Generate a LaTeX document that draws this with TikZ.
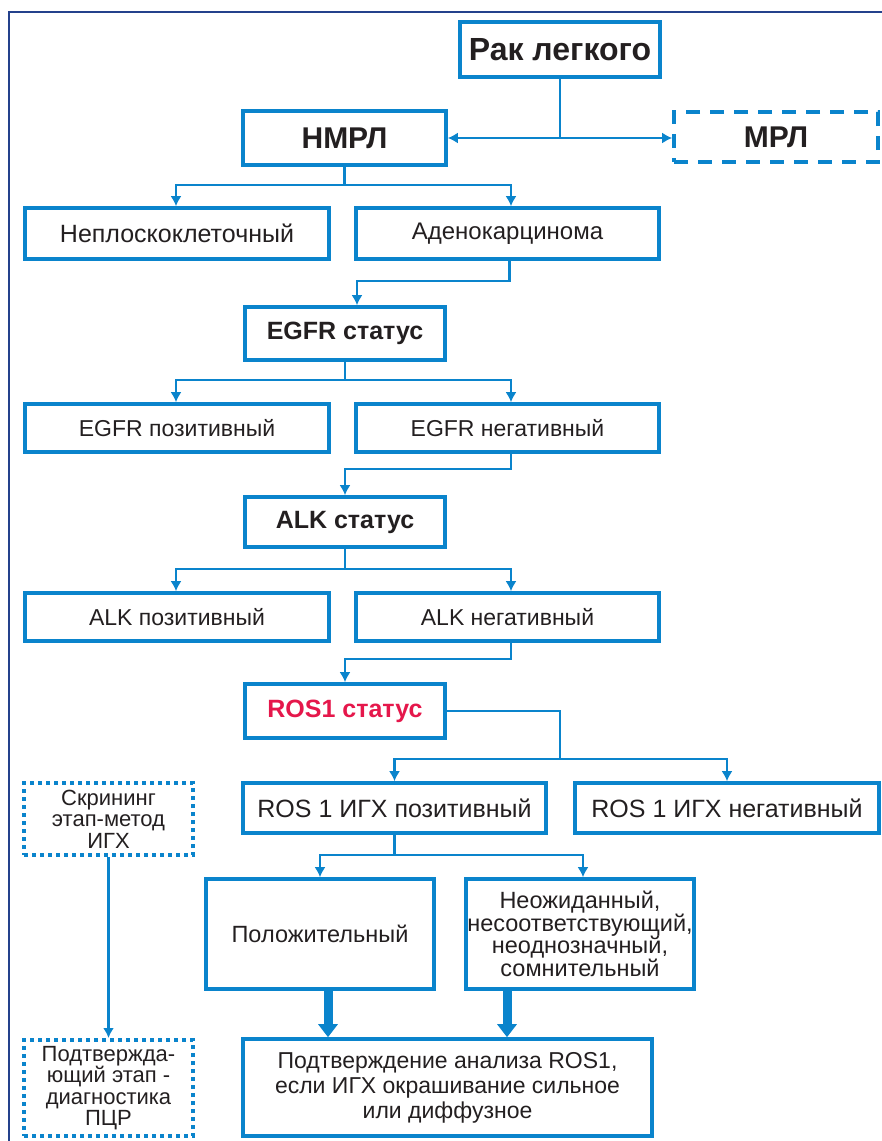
\documentclass[tikz,border=0pt]{standalone}
\usepackage{fontspec}
\setmainfont{Liberation Sans}
\usetikzlibrary{arrows.meta}
\definecolor{boxblue}{HTML}{0A84CC}
\definecolor{frameblue}{HTML}{24418C}
\definecolor{rosred}{HTML}{E5174B}
\definecolor{txt}{HTML}{231F20}
\tikzset{
  box/.style={draw=boxblue, line width=3.6pt, inner sep=0pt, align=center, text=txt,
    font=\fontsize{24}{24}\selectfont},
  bigbox/.style={box, font=\bfseries\fontsize{32}{32}\selectfont},
  statbox/.style={box, font=\bfseries\fontsize{25}{25}\selectfont},
  dashbox/.style={box, dash pattern=on 14pt off 10pt, font=\bfseries\fontsize{30}{30}\selectfont},
  dotbox/.style={box, line width=4pt, dash pattern=on 4pt off 4pt, font=\fontsize{22}{21.5}\selectfont},
  conn/.style={draw=boxblue, line width=2.2pt},
  arr/.style={conn, -{Latex[length=10pt,width=11pt]}},
  fatarr/.style={draw=boxblue, line width=9pt, -{Triangle[length=13pt,width=19pt]}},
}
\begin{document}
\begin{tikzpicture}[x=1pt,y=-1pt]
\useasboundingbox (0,0) rectangle (882,1141);
\draw[frameblue, line width=2pt] (9,1141) -- (9,12) -- (882,12);

\node[bigbox, minimum width=200pt, minimum height=55pt] (rak) at (560,49.5) {Рак легкого};
\node[bigbox, minimum width=203pt, minimum height=54pt, font=\bfseries\fontsize{30}{30}\selectfont] (nmrl) at (344.5,138) {НМРЛ};
\node[dashbox, minimum width=204pt, minimum height=50pt] (mrl) at (776,137) {МРЛ};

\node[box, minimum width=304pt, minimum height=51pt, font=\fontsize{25}{25}\selectfont] (nepl) at (177,233.5) {Неплоскоклеточный};
\node[box, minimum width=303pt, minimum height=51pt] (adeno) at (507.5,233.5) {Аденокарцинома};

\node[statbox, minimum width=200pt, minimum height=53pt] (egfr) at (345,333.5) {EGFR статус};
\node[box, minimum width=304pt, minimum height=48pt, font=\fontsize{23}{23}\selectfont] (egfrp) at (177,428) {EGFR позитивный};
\node[box, minimum width=303pt, minimum height=48pt, font=\fontsize{23}{23}\selectfont] (egfrn) at (507.5,428) {EGFR негативный};

\node[statbox, minimum width=200pt, minimum height=50pt] (alk) at (345,522) {ALK статус};
\node[box, minimum width=304pt, minimum height=48pt, font=\fontsize{23}{23}\selectfont] (alkp) at (177,617) {ALK позитивный};
\node[box, minimum width=303pt, minimum height=48pt, font=\fontsize{23}{23}\selectfont] (alkn) at (507.5,617) {ALK негативный};

\node[statbox, minimum width=200pt, minimum height=54pt, text=rosred] (ros) at (345,711) {ROS1 статус};
\node[box, minimum width=303pt, minimum height=50pt, font=\fontsize{25}{25}\selectfont] (rosp) at (394.5,808) {ROS 1 ИГХ позитивный};
\node[box, minimum width=304pt, minimum height=50pt, font=\fontsize{25}{25}\selectfont] (rosn) at (727,808) {ROS 1 ИГХ негативный};

\node[box, minimum width=228pt, minimum height=110pt, font=\fontsize{23.5}{23.5}\selectfont] (pos) at (320,934) {Положительный};
\node[box, minimum width=228pt, minimum height=110pt, font=\fontsize{23.5}{22.5}\selectfont] (unexp) at (580,934)
  {Неожиданный,\\несоответствующий,\\неоднозначный,\\сомнительный};
\node[box, minimum width=409pt, minimum height=97pt, font=\fontsize{23}{25}\selectfont] (conf) at (447.5,1087.5)
  {Подтверждение анализа ROS1,\\если ИГХ окрашивание сильное\\или диффузное};

\node[dotbox, minimum width=169pt, minimum height=72pt] (scr) at (108.5,819) {Скрининг\\этап-метод\\ИГХ};
\node[dotbox, minimum width=169pt, minimum height=96pt] (pcr) at (108.5,1088) {Подтвержда-\\ющий этап -\\диагностика\\ПЦР};

% connectors
\coordinate (rj) at (rak.south |- nmrl.east);
\draw[conn] (rak.south) -- (rj);
\draw[arr] (rj) -- (nmrl.east);
\draw[arr] (rj) -- (rj -| mrl.west);

\coordinate (nj) at ([yshift=-18pt]nmrl.south);
\draw[conn] (nmrl.south) -- (nj);
\draw[arr] (nj) -| ([xshift=-1pt]nepl.north);
\draw[arr] (nj) -| ([xshift=3.5pt]adeno.north);

\draw[arr] ([xshift=2pt]adeno.south) -- ++(0,20) -| ([xshift=12pt]egfr.north);

\coordinate (ej) at ([yshift=-18pt]egfr.south);
\draw[conn] (egfr.south) -- (ej);
\draw[arr] (ej) -| ([xshift=-1pt]egfrp.north);
\draw[arr] (ej) -| ([xshift=3.5pt]egfrn.north);

\draw[arr] ([xshift=3.5pt]egfrn.south) -- ++(0,15) -| (alk.north);

\coordinate (aj) at ([yshift=-20pt]alk.south);
\draw[conn] (alk.south) -- (aj);
\draw[arr] (aj) -| ([xshift=-1pt]alkp.north);
\draw[arr] (aj) -| ([xshift=3.5pt]alkn.north);

\draw[arr] ([xshift=3.5pt]alkn.south) -- ++(0,16) -| (ros.north);

\coordinate (oj) at (560,759);
\draw[conn] (ros.east) -| (oj);
\draw[arr] (oj) -| (rosp.north);
\draw[arr] (oj) -| (rosn.north);

\coordinate (pj) at ([yshift=-20pt]rosp.south);
\draw[conn] (rosp.south) -- (pj);
\draw[arr] (pj) -| (pos.north);
\draw[arr] (pj) -| ([xshift=3pt]unexp.north);

\draw[fatarr] ([xshift=8pt]pos.south) -- ([xshift=8pt]pos.south |- conf.north);
\draw[fatarr] ([xshift=-73pt]unexp.south) -- ([xshift=-73pt]unexp.south |- conf.north);

\draw[arr] (scr.south) -- (pcr.north);
\end{tikzpicture}
\end{document}
